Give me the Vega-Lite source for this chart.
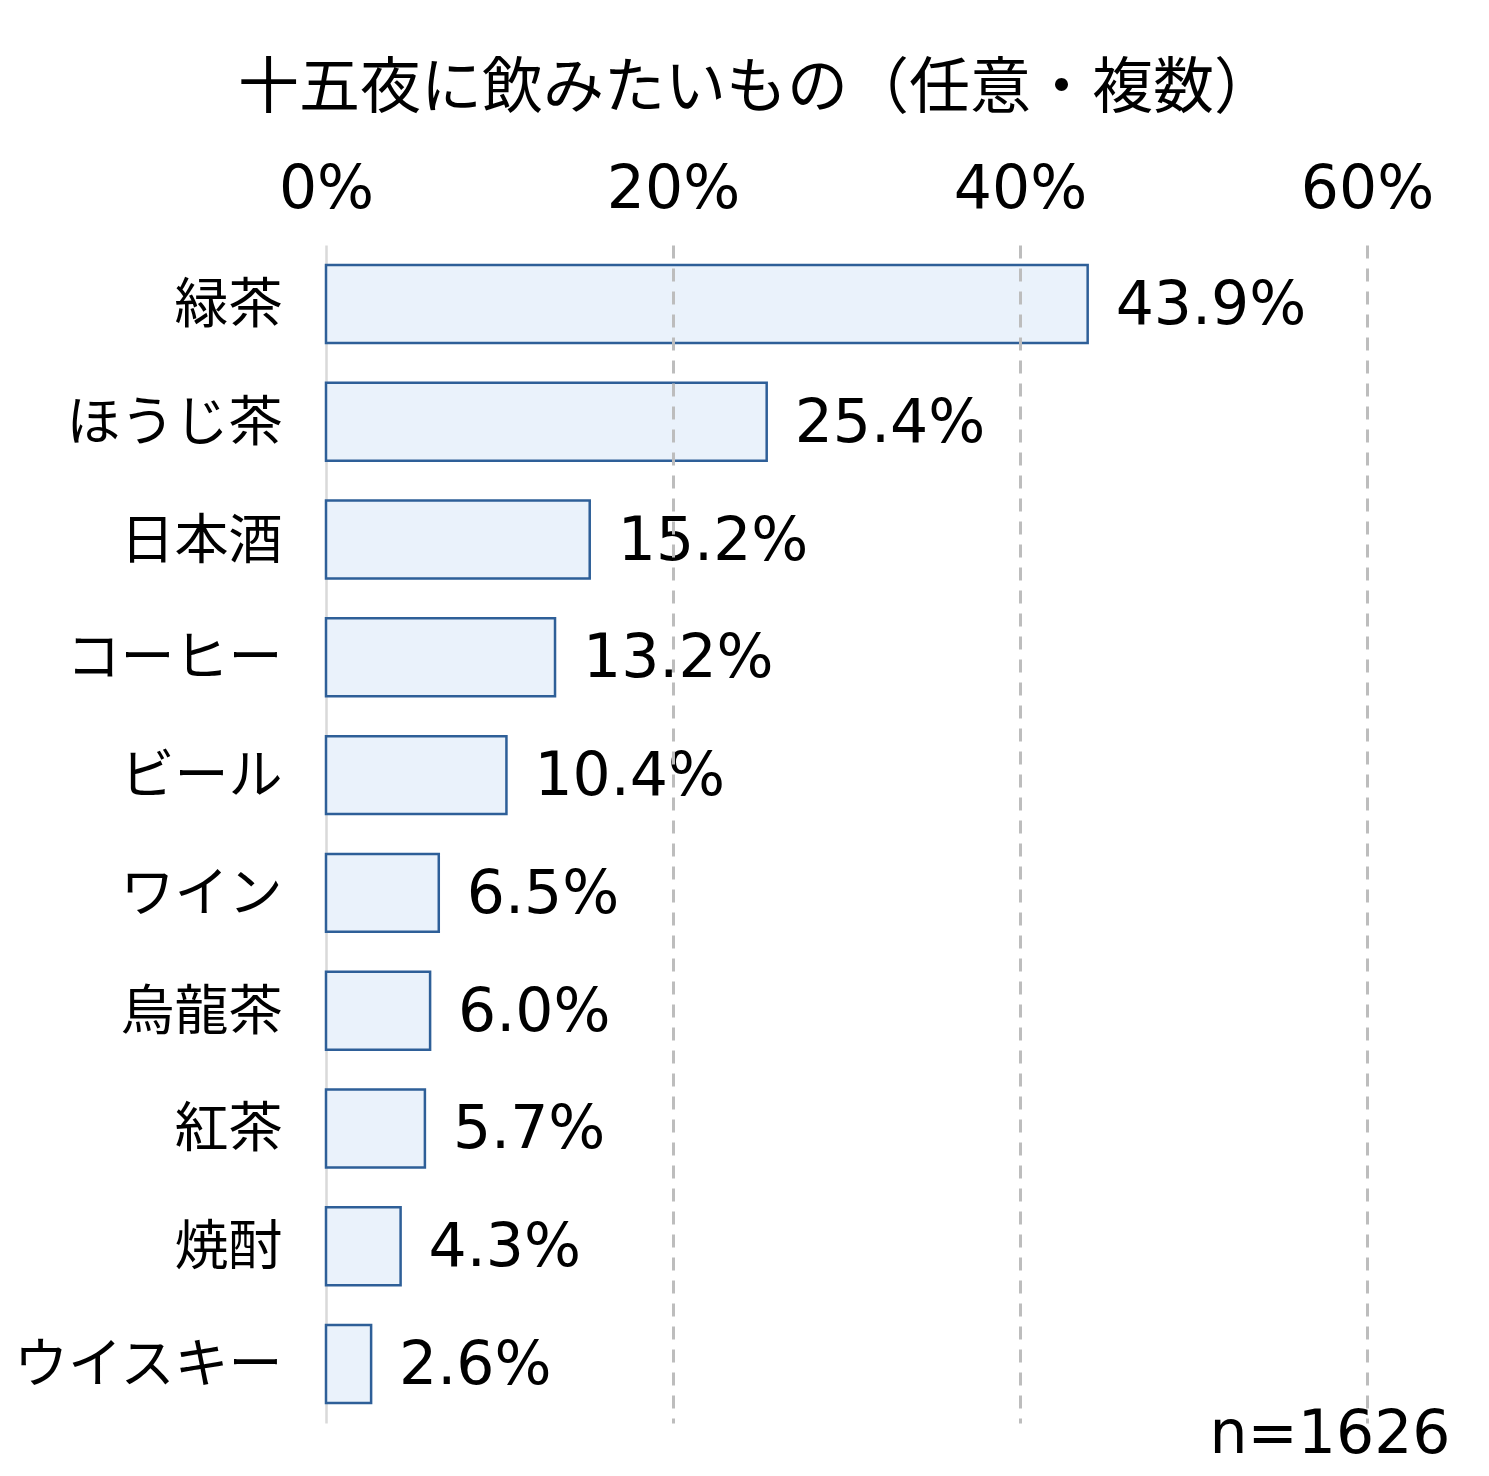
{
  "$schema": "https://vega.github.io/schema/vega-lite/v6.json",
  "width": 1041,
  "height": 1178,
  "autosize": {"type": "none"},
  "padding": {"left": 326, "top": 245, "right": 122, "bottom": 53},
  "background": "white",
  "title": {
    "text": "十五夜に飲みたいもの（任意・複数）",
    "font": "Noto Sans CJK JP",
    "fontSize": 61,
    "fontWeight": "normal",
    "color": "#000000",
    "anchor": "middle",
    "frame": "group",
    "dx": -90,
    "offset": 38
  },
  "data": {
    "values": [
      {"item": "緑茶", "value": 0.439},
      {"item": "ほうじ茶", "value": 0.254},
      {"item": "日本酒", "value": 0.152},
      {"item": "コーヒー", "value": 0.132},
      {"item": "ビール", "value": 0.104},
      {"item": "ワイン", "value": 0.065},
      {"item": "烏龍茶", "value": 0.060},
      {"item": "紅茶", "value": 0.057},
      {"item": "焼酎", "value": 0.043},
      {"item": "ウイスキー", "value": 0.026}
    ]
  },
  "encoding": {
    "y": {
      "field": "item",
      "type": "nominal",
      "sort": null,
      "scale": {"paddingInner": 0.338, "paddingOuter": 0.17},
      "axis": {
        "title": null,
        "ticks": false,
        "domain": true,
        "domainColor": "#D9D9D9",
        "domainWidth": 2.5,
        "labelFont": "Noto Sans CJK JP",
        "labelFontSize": 54,
        "labelColor": "#000000",
        "labelPadding": 44,
        "labelOffset": 3,
        "labelLimit": 400
      }
    }
  },
  "layer": [
    {
      "mark": {"type": "bar", "fill": "#EAF2FB", "stroke": "#2E5F98", "strokeWidth": 2.5},
      "encoding": {
        "x": {
          "field": "value",
          "type": "quantitative",
          "scale": {"domain": [0, 0.6], "nice": false, "zero": true},
          "axis": {
            "orient": "top",
            "values": [0, 0.2, 0.4, 0.6],
            "format": ".0%",
            "title": null,
            "ticks": false,
            "domain": false,
            "labelFlush": false,
            "labelFont": "DejaVu Sans",
            "labelFontSize": 60,
            "labelColor": "#000000",
            "labelPadding": 25,
            "grid": true,
            "gridColor": {"condition": {"test": "datum.value === 0", "value": "transparent"}, "value": "#BDBDBD"},
            "gridDash": [13, 10],
            "gridWidth": 3,
            "zindex": 1
          }
        }
      }
    },
    {
      "mark": {"type": "text", "align": "left", "baseline": "middle", "dx": 28, "dy": 2, "font": "DejaVu Sans", "fontSize": 60, "color": "#000000"},
      "encoding": {
        "x": {
          "field": "value",
          "type": "quantitative",
          "axis": {
            "orient": "bottom",
            "title": "n=1626",
            "labels": false,
            "ticks": false,
            "domain": false,
            "grid": false,
            "titleFont": "DejaVu Sans",
            "titleFontSize": 60,
            "titleFontWeight": "normal",
            "titleColor": "#000000",
            "titleAlign": "right",
            "titleAnchor": "end",
            "titleBaseline": "alphabetic",
            "titleX": 1124,
            "titleY": 29
          }
        },
        "text": {"field": "value", "type": "quantitative", "format": ".1%"}
      }
    }
  ],
  "resolve": {"axis": {"x": "independent"}},
  "config": {
    "view": {"stroke": null},
    "font": "Noto Sans CJK JP"
  }
}
